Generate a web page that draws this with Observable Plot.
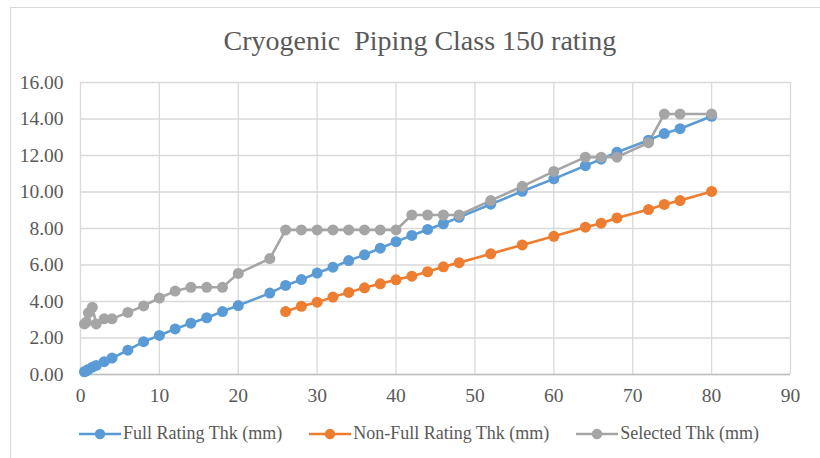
<!DOCTYPE html>
<html>
<head>
<meta charset="utf-8">
<script src="https://cdn.jsdelivr.net/npm/d3@7"></script>
<script src="https://cdn.jsdelivr.net/npm/@observablehq/plot@0.6"></script>
<style>
  html, body { margin: 0; padding: 0; background: #fff; }
  #wrap { position: relative; width: 820px; height: 458px; overflow: hidden; background: #fff; }
  #border { position: absolute; left: 10px; top: 7px; width: 820px; height: 470px; border: 1px solid #d9d9d9; box-sizing: border-box; }
  #title { position: absolute; left: 0; width: 840px; top: 25px; text-align: center;
           font-family: "Liberation Serif", "Times New Roman", serif; font-size: 28px; color: #595959; white-space: pre; }
  #legend { position: absolute; left: 0; width: 838px; top: 423px; display: flex; justify-content: center; gap: 27px;
            font-family: "Liberation Serif", "Times New Roman", serif; font-size: 18px; color: #595959; }
  .item { display: flex; align-items: center; }
  .item svg { margin-right: 2px; }
  #chart { position: absolute; left: 0; top: 0; }
</style>
</head>
<body>
<div id="wrap">
  <div id="border"></div>
  <div id="chart"></div>
  <div id="title">Cryogenic  Piping Class 150 rating</div>
  <div id="legend"></div>
</div>
<script>
// Nominal sizes (x) for full-rating and selected thickness series
const nps = [0.5,0.75,1,1.5,2,3,4,6,8,10,12,14,16,18,20,24,26,28,30,32,34,36,38,40,42,44,46,48,52,56,60,64,66,68,72,74,76,80];
const fullThk = [0.15,0.2,0.28,0.4,0.5,0.7,0.9,1.33,1.8,2.14,2.5,2.81,3.11,3.45,3.78,4.46,4.88,5.2,5.56,5.88,6.24,6.56,6.92,7.28,7.62,7.95,8.26,8.61,9.33,10.04,10.72,11.44,11.8,12.18,12.84,13.2,13.47,14.15];
const selectedThk = [2.77,2.87,3.38,3.68,2.77,3.05,3.05,3.40,3.76,4.19,4.57,4.78,4.78,4.78,5.54,6.35,7.92,7.92,7.92,7.92,7.92,7.92,7.92,7.92,8.74,8.74,8.74,8.74,9.53,10.31,11.13,11.91,11.91,11.91,12.70,14.27,14.27,14.27];
// Non-full rating series starts at 26
const npsNonFull = [26,28,30,32,34,36,38,40,42,44,46,48,52,56,60,64,66,68,72,74,76,80];
const nonFullThk = [3.45,3.74,3.96,4.24,4.5,4.75,4.97,5.19,5.39,5.63,5.9,6.13,6.61,7.1,7.57,8.07,8.29,8.58,9.04,9.32,9.53,10.03];

const seriesNames = ["Full Rating Thk (mm)", "Non-Full Rating Thk (mm)", "Selected Thk (mm)"];
const seriesColors = ["#5b9bd5", "#ed7d31", "#a5a5a5"];
const xTicks = [0,10,20,30,40,50,60,70,80,90];
const yTicks = [0,2,4,6,8,10,12,14,16];

const rows = [
  ...nps.map((x, i) => ({series: seriesNames[0], x, y: fullThk[i]})),
  ...npsNonFull.map((x, i) => ({series: seriesNames[1], x, y: nonFullThk[i]})),
  ...nps.map((x, i) => ({series: seriesNames[2], x, y: selectedThk[i]}))
];

const font = '"Liberation Serif", "Times New Roman", serif';
const chart = Plot.plot({
  width: 820,
  height: 458,
  marginLeft: 80,
  marginRight: 30,
  marginTop: 82,
  marginBottom: 84,
  style: {background: "transparent", overflow: "visible"},
  x: {domain: [0, 90], axis: null},
  y: {domain: [0, 16], axis: null},
  color: {domain: seriesNames, range: seriesColors},
  marks: [
    Plot.gridX(xTicks, {stroke: "#d9d9d9", strokeOpacity: 1, strokeWidth: 1.3}),
    Plot.gridY(yTicks, {stroke: "#d9d9d9", strokeOpacity: 1, strokeWidth: 1.3}),
    Plot.ruleY([0], {stroke: "#bfbfbf", strokeWidth: 1.3}),
    ...seriesNames.map(s => Plot.line(rows.filter(r => r.series === s), {x: "x", y: "y", stroke: "series", strokeWidth: 2.6})),
    ...seriesNames.map(s => Plot.dot(rows.filter(r => r.series === s), {x: "x", y: "y", fill: "series", r: 5.5, stroke: "none"})),
    Plot.text(xTicks, {x: d => d, frameAnchor: "bottom", dy: 21, text: d => String(d), fontFamily: font, fontSize: 19.5, fill: "#595959", lineAnchor: "middle"}),
    Plot.text(yTicks, {y: d => d, frameAnchor: "left", dx: -17, textAnchor: "end", text: d => d.toFixed(2), fontFamily: font, fontSize: 19.5, fill: "#595959"})
  ]
});
document.getElementById("chart").appendChild(chart);

// Legend
const legend = document.getElementById("legend");
seriesNames.forEach((name, i) => {
  const item = document.createElement("div");
  item.className = "item";
  item.innerHTML = `<svg width="42" height="14"><line x1="0" y1="7" x2="42" y2="7" stroke="${seriesColors[i]}" stroke-width="2.6"/><circle cx="21" cy="7" r="5.2" fill="${seriesColors[i]}"/></svg><span>${name}</span>`;
  legend.appendChild(item);
});
</script>
</body>
</html>
